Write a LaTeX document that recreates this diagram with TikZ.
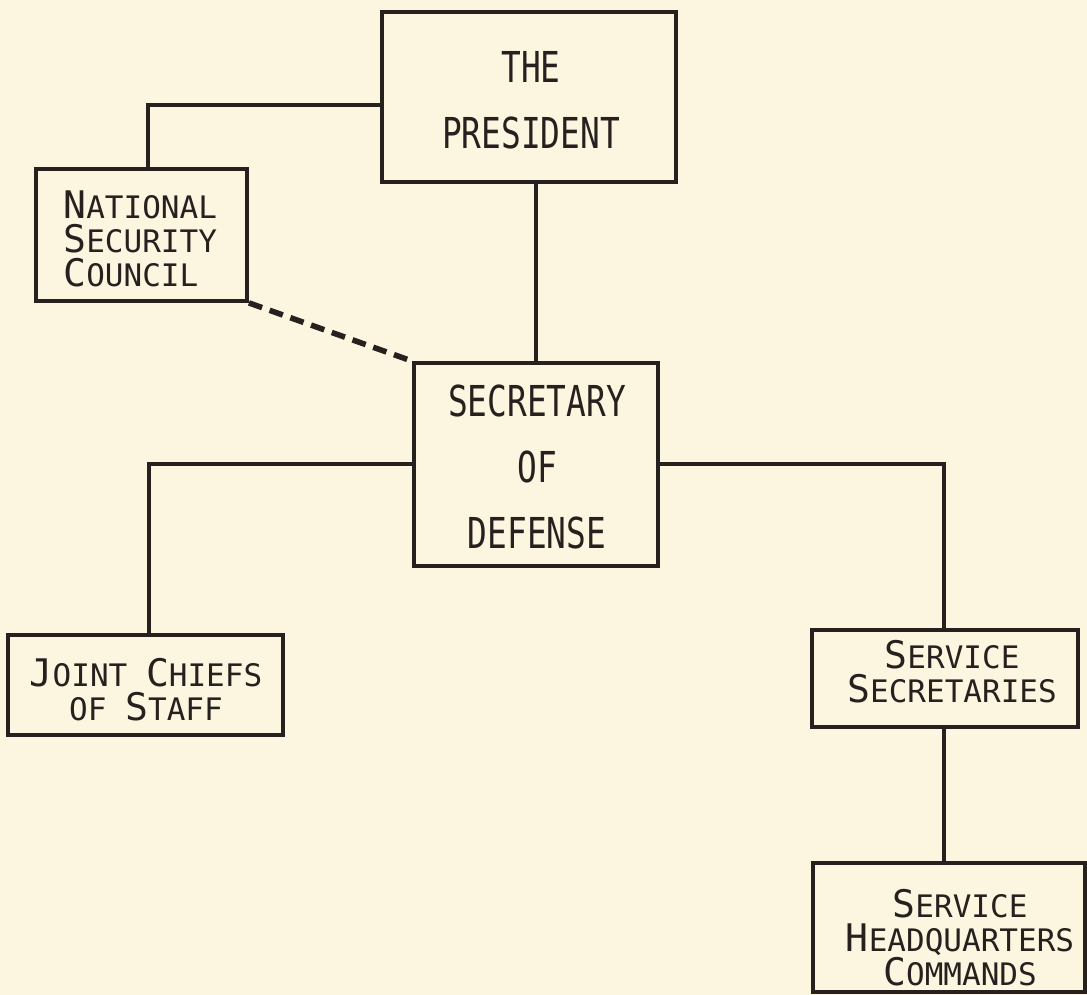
\documentclass[tikz,border=0pt]{standalone}
\usepackage{fontspec}
% hand-lettered look: a condensed monospaced sans for the main boxes,
% the plain width for the small-capital boxes
\newfontfamily\lettering[FakeStretch=0.77]{DejaVu Sans Mono}
\newfontfamily\letteringw{DejaVu Sans Mono}
\definecolor{paper}{RGB}{252,246,224}
\definecolor{ink}{RGB}{38,33,30}
% large initial capital followed by small capitals
\newcommand\initcap[2]{{\fontsize{19}{17}\selectfont #1}#2}

\begin{document}
\begin{tikzpicture}[x=0.5pt,y=-0.5pt,
  frame/.style={draw=ink, line width=1.9pt, inner sep=0pt, rectangle},
  bigtext/.style={inner sep=0pt, text=ink, font=\lettering\fontsize{21.3}{33}\selectfont, align=center},
  smalltext/.style={inner sep=0pt, text=ink, font=\letteringw\fontsize{15.5}{17}\selectfont},
  link/.style={draw=ink, line width=1.7pt},
  advisory/.style={draw=ink, line width=2.8pt, dash pattern=on 7pt off 4pt}]

% sheet
\fill[paper] (0,0) rectangle (1087,995);
\useasboundingbox (0,0) rectangle (1087,995);

% office frames
\node[frame, minimum width=147pt, minimum height=85pt] (pres) at (529,97) {};
\node[frame, minimum width=105.5pt, minimum height=66pt] (nsc) at (141.5,235) {};
\node[frame, minimum width=122pt, minimum height=101.5pt] (sec) at (536,464.5) {};
\node[frame, minimum width=137.5pt, minimum height=50pt] (jcs) at (145.5,685) {};
\node[frame, minimum width=133pt, minimum height=48.5pt] (ss) at (945,678.5) {};
\node[frame, minimum width=136pt, minimum height=64.5pt] (hq) at (949,927.5) {};

% office titles
\node[bigtext] (prest) at (531,100) {THE\\PRESIDENT};
\node[smalltext, align=left, anchor=west] (nsct) at (63,239)
  {\initcap{N}{ATIONAL}\\\initcap{S}{ECURITY}\\\initcap{C}{OUNCIL}};
\node[bigtext] (sect) at (537,467) {SECRETARY\\OF\\DEFENSE};
\node[smalltext, align=center] (jcst) at (146,690)
  {\initcap{J}{OINT} \initcap{C}{HIEFS}\\OF \initcap{S}{TAFF}};
\node[smalltext, align=center] (sst) at (952,672)
  {\initcap{S}{ERVICE}\\\initcap{S}{ECRETARIES}};
\node[smalltext, align=center] (hqt) at (960,938)
  {\initcap{S}{ERVICE}\\\initcap{H}{EADQUARTERS}\\\initcap{C}{OMMANDS}};

% lines of authority
\coordinate (nk) at (148,105);
\draw[link] (nk -| pres.west) -- (nk) -- (nk |- nsc.north);
\draw[link] (pres.south -| sec.north) -- (sec.north);
\coordinate (jk) at (149,464);
\draw[link] (jk -| sec.west) -- (jk) -- (jk |- jcs.north);
\coordinate (sk) at (944,464);
\draw[link] (sk -| sec.east) -- (sk) -- (sk |- ss.north);
\draw[link] (ss.south -| sk) -- (hq.north -| sk);

% advisory relation
\draw[advisory] (nsc.south east) -- (sec.north west);
\end{tikzpicture}
\end{document}
